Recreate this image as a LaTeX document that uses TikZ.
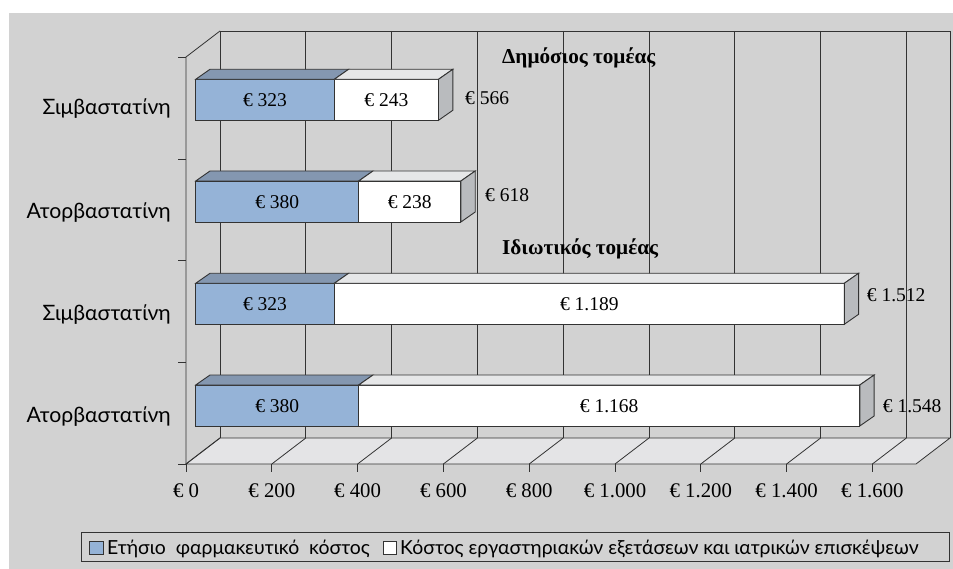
\documentclass[tikz,border=0pt]{standalone}
\usepackage{fontspec}
\setmainfont{Liberation Serif}
\newfontfamily\grsans{Lato}
\definecolor{bg}{HTML}{D2D2D2}
\definecolor{bluef}{HTML}{95B3D7}
\definecolor{bluet}{HTML}{8497B0}
\definecolor{whitet}{HTML}{E6E7E8}
\definecolor{sidec}{HTML}{B9BBBE}
\definecolor{floorc}{HTML}{E4E4E6}
\definecolor{linec}{HTML}{333333}
\newcommand\segbar[5]{%
  \filldraw[fill=#4,draw=linec,line width=0.9pt] (#1,#3) rectangle (#2,#3+41);
  \filldraw[fill=#5,draw=linec,line width=0.9pt] (#1,#3) -- (#1+14.3,#3-10) -- (#2+14.3,#3-10) -- (#2,#3) -- cycle;}
\newcommand\sidebar[2]{%
  \filldraw[fill=sidec,draw=linec,line width=0.9pt] (#1,#2) -- (#1+14.3,#2-10) -- (#1+14.3,#2+31) -- (#1,#2+41) -- cycle;}
\begin{document}
\begin{tikzpicture}[x=1pt,y=-1pt,
  grid/.style={draw=linec,line width=0.8pt},
  seglabel/.style={anchor=base,font=\fontsize{19.5}{22}\selectfont,inner sep=0pt},
  totlabel/.style={anchor=base west,font=\fontsize{19.5}{22}\selectfont,inner sep=0pt},
  axlabel/.style={anchor=base,font=\fontsize{20.8}{24}\selectfont,inner sep=0pt},
  catlabel/.style={anchor=base east,font=\grsans\fontsize{21.2}{25}\selectfont,inner sep=0pt},
  title/.style={anchor=base west,font=\bfseries\fontsize{21.2}{25}\selectfont,inner sep=0pt},
  legtext/.style={anchor=base west,font=\grsans\fontsize{19.4}{22}\selectfont,inner sep=0pt}]
\useasboundingbox (0,0) rectangle (953,569);
\fill[white] (0,0) rectangle (953,569);
\fill[bg] (9,13) rectangle (953,569);
% back wall grid
\foreach \k in {0,...,8} {
  \draw[grid] (220+\k*85.8,31) -- (220+\k*85.8,438);
}
\draw[grid] (220,31) -- (950,31) -- (950,438);
% left wall
\draw[grid] (186,464) -- (186,57) -- (220,31);
\foreach \yy in {57,159,260,362,464} {
  \draw[grid] (178,\yy) -- (186,\yy);
}
% floor
\filldraw[fill=floorc,draw=linec,line width=0.8pt] (186,464) -- (916,464) -- (950,438) -- (220,438) -- cycle;
\foreach \k in {0,...,8} {
  \draw[grid] (186+\k*85.8,464) -- (220+\k*85.8,438);
  \draw[grid] (186+\k*85.8,464) -- (186+\k*85.8,472);
}
% bars
\segbar{195.7}{334.3}{79.3}{bluef}{bluet}
\segbar{334.3}{438.5}{79.3}{white}{whitet}
\sidebar{438.5}{79.3}
\segbar{195.7}{358.7}{181}{bluef}{bluet}
\segbar{358.7}{460.9}{181}{white}{whitet}
\sidebar{460.9}{181}
\segbar{195.7}{334.3}{283.3}{bluef}{bluet}
\segbar{334.3}{844.3}{283.3}{white}{whitet}
\sidebar{844.3}{283.3}
\segbar{195.7}{358.7}{385}{bluef}{bluet}
\segbar{358.7}{859.8}{385}{white}{whitet}
\sidebar{859.8}{385}
% segment labels
\node[seglabel] (s11) at (265,106.7) {€ 323};
\node[seglabel] (s12) at (386.4,106.7) {€ 243};
\node[seglabel] (s21) at (277.2,209) {€ 380};
\node[seglabel] (s22) at (409.8,209) {€ 238};
\node[seglabel] (s31) at (265,310.7) {€ 323};
\node[seglabel] (s32) at (589.3,310.7) {€ 1.189};
\node[seglabel] (s41) at (277.2,412.7) {€ 380};
\node[seglabel] (s42) at (609.2,412.7) {€ 1.168};
% totals
\node[totlabel] (t1) at (465,105) {€ 566};
\node[totlabel] (t2) at (485,201.7) {€ 618};
\node[totlabel] (t3) at (866.7,301.7) {€ 1.512};
\node[totlabel] (t4) at (882.7,412.7) {€ 1.548};
% titles
\node[title] (pub) at (502,64) {Δημόσιος τομέας};
\node[title] (priv) at (502,255) {Ιδιωτικός τομέας};
% category labels
\node[catlabel] (c1) at (171,115) {Σιμβαστατίνη};
\node[catlabel] (c2) at (171,219) {Ατορβαστατίνη};
\node[catlabel] (c3) at (171,320.7) {Σιμβαστατίνη};
\node[catlabel] (c4) at (171,422.7) {Ατορβαστατίνη};
% axis labels
\foreach \k/\lab in {0/€ 0,1/€ 200,2/€ 400,3/€ 600,4/€ 800,5/€ 1.000,6/€ 1.200,7/€ 1.400,8/€ 1.600} {
  \node[axlabel] (ax\k) at (186+\k*85.8,497.3) {\lab};
}
% legend
\draw[draw=linec,line width=0.8pt] (81,532) rectangle (949,561);
\filldraw[fill=bluef,draw=linec,line width=0.8pt] (89,541) rectangle (103,554);
\filldraw[fill=white,draw=linec,line width=0.8pt] (383,541) rectangle (396,554);
\node[legtext] (l1) at (107,554.5) {Ετήσιο\ \ φαρμακευτικό\ \ κόστος};
\node[legtext] (l2) at (400,554.5) {Κόστος εργαστηριακών εξετάσεων και ιατρικών επισκέψεων};
\end{tikzpicture}
\end{document}
